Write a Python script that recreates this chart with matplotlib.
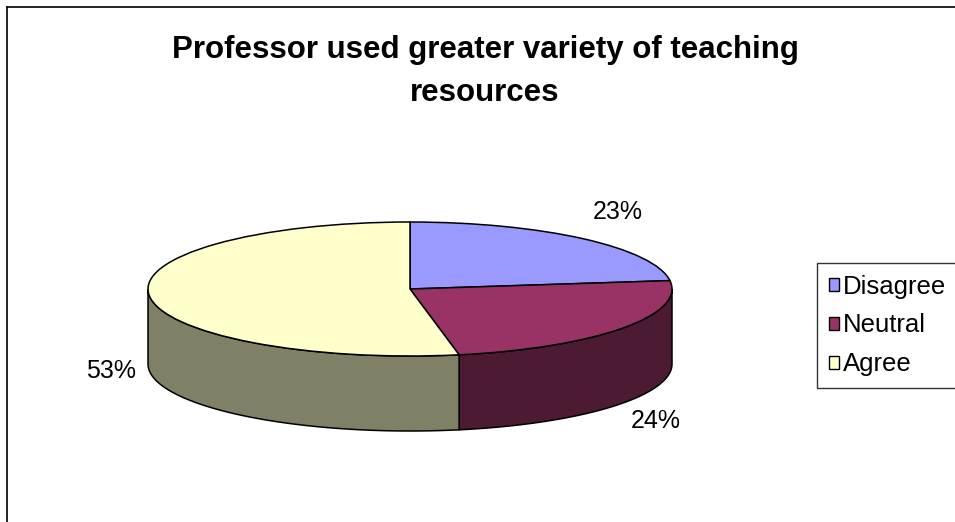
import numpy as np
import matplotlib as mpl
import matplotlib.pyplot as plt
import matplotlib.colors as mcolors
from matplotlib.patches import Polygon, Patch
from matplotlib.lines import Line2D

mpl.rcParams['font.family'] = ['Liberation Sans', 'DejaVu Sans']

categories = ['Disagree', 'Neutral', 'Agree']
values = [23, 24, 53]
colors = ['#9999FF', '#993366', '#FFFFCC']
title = 'Professor used greater variety of teaching\nresources'

W, H = 955, 522
fig = plt.figure(figsize=(W / 100, H / 100), dpi=100)
ax = fig.add_axes([0, 0, 1, 1])

# pie geometry in pixels (top face ellipse + wall depth)
cx, cy, a, b, depth = 410, 289, 262, 67, 75

wedges, _ = ax.pie(values, colors=colors, startangle=90, counterclock=False,
                   radius=1, center=(0, 0), frame=True,
                   wedgeprops=dict(edgecolor='black', linewidth=1.1, zorder=3))
ax.set_aspect('auto')
ax.set_xlim(-cx / a, (W - cx) / a)
ax.set_ylim(-(H - cy) / b, cy / b)
ax.axis('off')

# front side walls, half brightness of the top colour
d = depth / b
for w, c in zip(wedges, colors):
    lo, hi = min(w.theta1, w.theta2), max(w.theta1, w.theta2)
    for shift in (0, -360, 360):
        s, e = max(lo + shift, -180), min(hi + shift, 0)
        if e <= s:
            continue
        t = np.radians(np.linspace(s, e, 80))
        top = np.column_stack([np.cos(t), np.sin(t)])
        bot = np.column_stack([np.cos(t), np.sin(t) - d])[::-1]
        side = tuple(np.array(mcolors.to_rgb(c)) * 0.5)
        ax.add_patch(Polygon(np.vstack([top, bot]), closed=True, facecolor=side,
                             edgecolor='black', linewidth=1.1, zorder=2))

# percentage labels
label_pos = [(618, 212), (656, 421), (111, 371)]
for v, (px, py) in zip(values, label_pos):
    fig.text(px / W, 1 - py / H, f'{v}%', ha='center', va='center', fontsize=18)

# title, two lines on fixed baselines
for line, base in zip(title.split('\n'), (58, 101)):
    fig.text(485 / W, 1 - base / H, line, ha='center', va='baseline',
             fontsize=22.5, fontweight='bold')

handles = [Patch(facecolor=c, edgecolor='black', linewidth=1.0) for c in colors]
leg = fig.legend(handles, categories, loc='upper left',
                 bbox_to_anchor=(817 / W, 1 - 263 / H), fontsize=18.5,
                 frameon=True, fancybox=False, edgecolor='black',
                 handlelength=0.4, handleheight=0.4, handletextpad=0.15,
                 labelspacing=0.58, borderpad=0.45, borderaxespad=0)
leg.get_frame().set_linewidth(1.0)

# chart area border (left and top only visible)
fig.add_artist(Line2D([7 / W, 7 / W], [0, 1 - 7 / H], color='black', linewidth=1.2))
fig.add_artist(Line2D([7 / W, 1], [1 - 7 / H, 1 - 7 / H], color='black', linewidth=1.2))

fig.savefig('out.png', dpi=100)
